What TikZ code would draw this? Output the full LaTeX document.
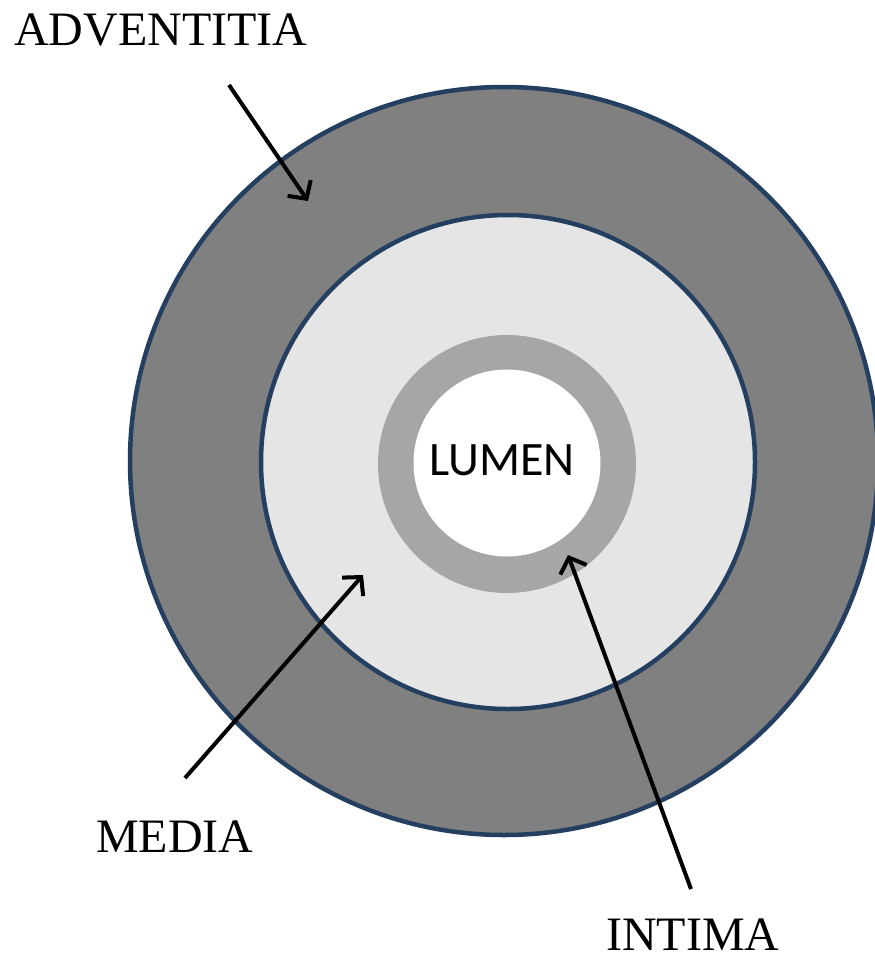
\documentclass[tikz,border=0pt]{standalone}
\usepackage{fontspec}
\setmainfont{Liberation Serif}
\newfontfamily\lumenfont{Carlito}
\usetikzlibrary{arrows.meta}

\definecolor{rimblue}{HTML}{243F60}
\definecolor{advgray}{HTML}{808080}
\definecolor{medgray}{HTML}{E5E5E5}
\definecolor{intgray}{HTML}{A6A6A6}

\tikzset{
  layer/.style={circle, inner sep=0pt, draw=rimblue, line width=4.5pt},
  tissue/.style={inner sep=0pt, font=\fontsize{48}{58}\selectfont},
  pointer/.style={line width=4pt, -{Straight Barb[length=13pt,width=28pt]}}
}

\begin{document}
\begin{tikzpicture}[x=1pt, y=-1pt]
  \useasboundingbox (0,0) rectangle (875,958);

  % vessel wall layers, outside in
  \node[layer, fill=advgray, minimum size=748pt] (adv) at (504,461) {};
  \node[layer, fill=medgray, minimum size=494pt] (med) at (508,462) {};
  \node[circle, inner sep=0pt, fill=intgray, minimum size=258pt] (int) at (507,464) {};
  \node[circle, inner sep=0pt, fill=white, minimum size=187pt] (lum) at (507,463) {};
  \node[inner sep=0pt, anchor=base west, font=\lumenfont\fontsize{48}{58}\selectfont] (lumtext) at (429,475) {LUMEN};

  % labels
  \node[tissue, anchor=base west] (advlabel) at (14,46) {ADVENTITIA};
  \node[tissue, anchor=base west] (medlabel) at (96,852) {MEDIA};
  \node[tissue, anchor=base west] (intlabel) at (606,950) {INTIMA};

  % pointer ends
  \coordinate (advtail) at (229,85);
  \coordinate (advtip) at (308,201);
  \coordinate (medtail) at (185,778);
  \coordinate (medtip) at (363,575);
  \coordinate (inttail) at (691,889);
  \coordinate (inttip) at (568,555);

  \draw[pointer] (advtail) -- (advtip);
  \draw[pointer] (medtail) -- (medtip);
  \draw[pointer] (inttail) -- (inttip);
\end{tikzpicture}
\end{document}
